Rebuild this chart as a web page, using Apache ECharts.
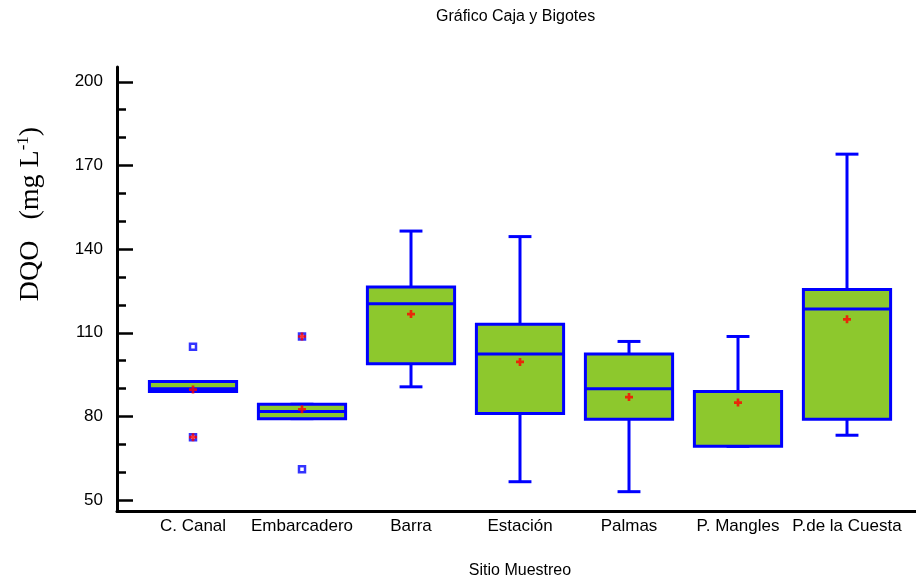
<!DOCTYPE html>
<html>
<head>
<meta charset="utf-8">
<script src="https://cdn.jsdelivr.net/npm/echarts@6.0.0/dist/echarts.min.js"></script>
<style>
    html, body { margin: 0; padding: 0; background: #fff; }
    #boxChart { width: 916px; height: 584px; }
</style>
</head>
<body>
<div id="boxChart"></div>
<script>
    // datos (DQO, mg/L)
    var categories = ['C. Canal', 'Embarcadero', 'Barra', 'Estación', 'Palmas', 'P. Mangles', 'P.de la Cuesta'];
    var minVals    = [88.0, 78.2, 89.7, 55.4, 51.8, 68.2, 72.2];
    var q1Vals     = [88.0, 78.2, 98.0, 80.1, 78.0, 68.2, 78.0];
    var medianVals = [89.0, 80.8, 119.7, 101.6, 89.0, 88.0, 117.8];
    var q3Vals     = [91.6, 83.4, 125.8, 112.3, 101.6, 88.0, 124.9];
    var maxVals    = [91.6, 83.4, 146.0, 144.0, 106.1, 107.9, 173.8];
    var meanVals   = [88.7, 81.6, 116.0, 98.7, 86.0, 84.0, 114.1];
    var outliers    = [[0, 104.2], [1, 59.9]];
    var farOutliers = [[0, 71.5], [1, 107.9]];
    var yMajorTicks = [50, 80, 110, 140, 170, 200];
    var yMinorTicks = [60, 70, 90, 100, 120, 130, 150, 160, 180, 190];

    var yMin = 45.9, yMax = 205.3;
    var fontSans = '"Liberation Sans", Arial, sans-serif';

    var boxRows = categories.map(function (c, i) {
        return [i, minVals[i], q1Vals[i], medianVals[i], q3Vals[i], maxVals[i]];
    });
    var meanPoints = meanVals.map(function (v, i) { return [i, v]; });

    var plusPath = 'path://M3,0H6V3H9V6H6V9H3V6H0V3H3Z';

    var myChart = echarts.init(document.getElementById('boxChart'), null, { renderer: 'canvas' });

    var renderBox = function (params, api) {
        var idx = api.value(0);
        var band = api.size([1, 0])[0];
        var half = band * 0.4, cap = band * 0.105;
        var pMin = api.coord([idx, api.value(1)]);
        var pQ1 = api.coord([idx, api.value(2)]);
        var pMed = api.coord([idx, api.value(3)]);
        var pQ3 = api.coord([idx, api.value(4)]);
        var pMax = api.coord([idx, api.value(5)]);
        var x = pMed[0];
        var ln = { stroke: '#0000ff', lineWidth: 3 };
        return {
            type: 'group',
            children: [
                { type: 'line', shape: { x1: x, y1: pMax[1], x2: x, y2: pQ3[1] }, style: ln },
                { type: 'line', shape: { x1: x, y1: pQ1[1], x2: x, y2: pMin[1] }, style: ln },
                { type: 'line', shape: { x1: x - cap, y1: pMax[1], x2: x + cap, y2: pMax[1] }, style: ln },
                { type: 'line', shape: { x1: x - cap, y1: pMin[1], x2: x + cap, y2: pMin[1] }, style: ln },
                {
                    type: 'rect',
                    shape: { x: x - half, y: pQ3[1], width: half * 2, height: pQ1[1] - pQ3[1] },
                    style: { fill: '#8dc82d', stroke: '#0000ff', lineWidth: 3 }
                },
                { type: 'line', shape: { x1: x - half, y1: pMed[1], x2: x + half, y2: pMed[1] }, style: ln }
            ]
        };
    };

    var option = {
        animation: false,
        title: {
            text: 'Gráfico Caja y Bigotes',
            left: 431,
            top: 4,
            textStyle: { fontFamily: fontSans, fontSize: 16, fontWeight: 'normal', color: '#000' }
        },
        grid: [
            { left: 117, right: 0, top: 67, bottom: 72.5 },
            { left: 138.5, right: 14.5, top: 67, bottom: 72.5 }
        ],
        xAxis: [{
            gridIndex: 0,
            type: 'value',
            min: 0,
            max: 1,
            axisLine: { show: true, lineStyle: { color: '#000', width: 3 } },
            axisTick: { show: false },
            axisLabel: { show: false },
            splitLine: { show: false }
        }, {
            gridIndex: 1,
            type: 'category',
            data: categories,
            axisLine: { show: false },
            axisTick: { show: false },
            axisLabel: {
                interval: 0,
                hideOverlap: false,
                margin: 10,
                fontFamily: fontSans,
                fontSize: 17,
                color: '#000'
            },
            name: 'Sitio Muestreo',
            nameLocation: 'middle',
            nameGap: 55,
            nameTextStyle: { fontFamily: fontSans, fontSize: 16, color: '#000' }
        }],
        yAxis: [{
            gridIndex: 0,
            type: 'value',
            min: yMin,
            max: yMax,
            axisLine: { show: true, lineStyle: { color: '#000', width: 3 } },
            axisTick: {
                show: true,
                inside: true,
                length: 16,
                customValues: yMajorTicks,
                lineStyle: { color: '#000', width: 2.5 }
            },
            axisLabel: {
                customValues: yMajorTicks,
                margin: 14,
                fontFamily: fontSans,
                fontSize: 17,
                color: '#000'
            },
            splitLine: { show: false }
        }, {
            gridIndex: 0,
            type: 'value',
            position: 'left',
            min: yMin,
            max: yMax,
            axisLine: { show: false },
            axisTick: {
                show: true,
                inside: true,
                length: 9,
                customValues: yMinorTicks,
                lineStyle: { color: '#000', width: 2.5 }
            },
            axisLabel: { show: false },
            splitLine: { show: false }
        }, {
            gridIndex: 1,
            type: 'value',
            min: yMin,
            max: yMax,
            show: false
        }],
        graphic: [{
            type: 'text',
            x: 31,
            y: 214,
            rotation: Math.PI / 2,
            style: {
                text: 'DQO   (mg L{sup|-1})',
                fontFamily: '"Liberation Serif", "Times New Roman", serif',
                fontSize: 28,
                fill: '#000',
                align: 'center',
                verticalAlign: 'middle',
                rich: {
                    sup: {
                        fontFamily: '"Liberation Serif", "Times New Roman", serif',
                        fontSize: 17,
                        verticalAlign: 'top',
                        padding: [0, 0, 14, 0]
                    }
                }
            }
        }],
        series: [{
            name: 'caja',
            type: 'custom',
            xAxisIndex: 1,
            yAxisIndex: 2,
            renderItem: renderBox,
            encode: { x: 0, y: [1, 2, 3, 4, 5] },
            data: boxRows
        }, {
            name: 'atipicos',
            type: 'scatter',
            xAxisIndex: 1,
            yAxisIndex: 2,
            symbol: 'rect',
            symbolSize: 6,
            itemStyle: { color: '#fff', borderColor: '#0000ff', borderWidth: 2.5 },
            data: outliers.concat(farOutliers)
        }, {
            name: 'media',
            type: 'scatter',
            xAxisIndex: 1,
            yAxisIndex: 2,
            symbol: plusPath,
            symbolSize: 8,
            itemStyle: { color: '#ff0000' },
            data: meanPoints.concat(farOutliers)
        }]
    };
    myChart.setOption(option);
</script>
</body>
</html>
